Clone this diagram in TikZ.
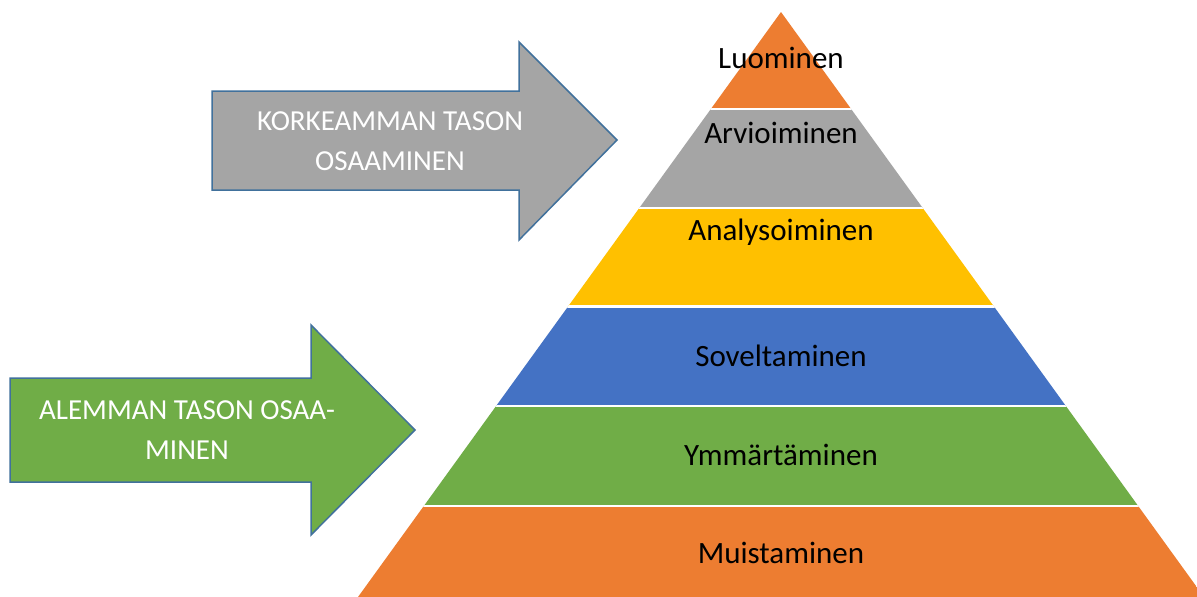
\documentclass[tikz,border=0pt]{standalone}
\usepackage{fontspec}
\setmainfont{Carlito}
\definecolor{porange}{HTML}{ED7D31}
\definecolor{pgray}{HTML}{A5A5A5}
\definecolor{pyellow}{HTML}{FFC000}
\definecolor{pblue}{HTML}{4472C4}
\definecolor{pgreen}{HTML}{70AD47}
\definecolor{aline}{HTML}{41719C}
\begin{document}
\begin{tikzpicture}[x=1pt,y=-1pt,
  lvl/.style={font=\fontsize{31}{36}\selectfont, text=black, inner sep=0pt},
  arrtext/.style={font=\fontsize{29}{40}\selectfont, text=white, align=center, inner sep=0pt},
  bigarrow/.style={draw=aline, line width=1.5pt, line join=miter}]
\useasboundingbox (0,0) rectangle (1197,597);
\fill[white] (0,0) rectangle (1197,597);
% pyramid
\begin{scope}
\clip (781,12) -- (1204,597) -- (358,597) -- cycle;
\fill[porange] (300,0) rectangle (1250,109);
\fill[pgray] (300,109) rectangle (1250,208);
\fill[pyellow] (300,208) rectangle (1250,306.5);
\fill[pblue] (300,306.5) rectangle (1250,406);
\fill[pgreen] (300,406) rectangle (1250,506);
\fill[porange] (300,506) rectangle (1250,600);
\foreach \yy in {109,208,306.5,406,506}
  \draw[white, line width=2.6pt] (300,\yy) -- (1250,\yy);
\end{scope}
\node[lvl] (l1) at (781,58) {Luominen};
\node[lvl] (l2) at (781,133) {Arvioiminen};
\node[lvl] (l3) at (781,232) {Analysoiminen};
\node[lvl] (l4) at (781,356) {Soveltaminen};
\node[lvl] (l5) at (781,455) {Ymmärtäminen};
\node[lvl] (l6) at (781,553) {Muistaminen};
% arrows
\draw[bigarrow, fill=pgray] (212,91) -- (519,91) -- (519,42) -- (617,140) -- (519,240) -- (519,190) -- (212,190) -- cycle;
\draw[bigarrow, fill=pgreen] (10,378) -- (311,378) -- (311,325) -- (415,430) -- (311,535) -- (311,482) -- (10,482) -- cycle;
\node[arrtext] (hi) at (390,141) {KORKEAMMAN TASON\\OSAAMINEN};
\node[arrtext] (lo) at (187,430) {ALEMMAN TASON OSAA-\\MINEN};
\end{tikzpicture}
\end{document}
